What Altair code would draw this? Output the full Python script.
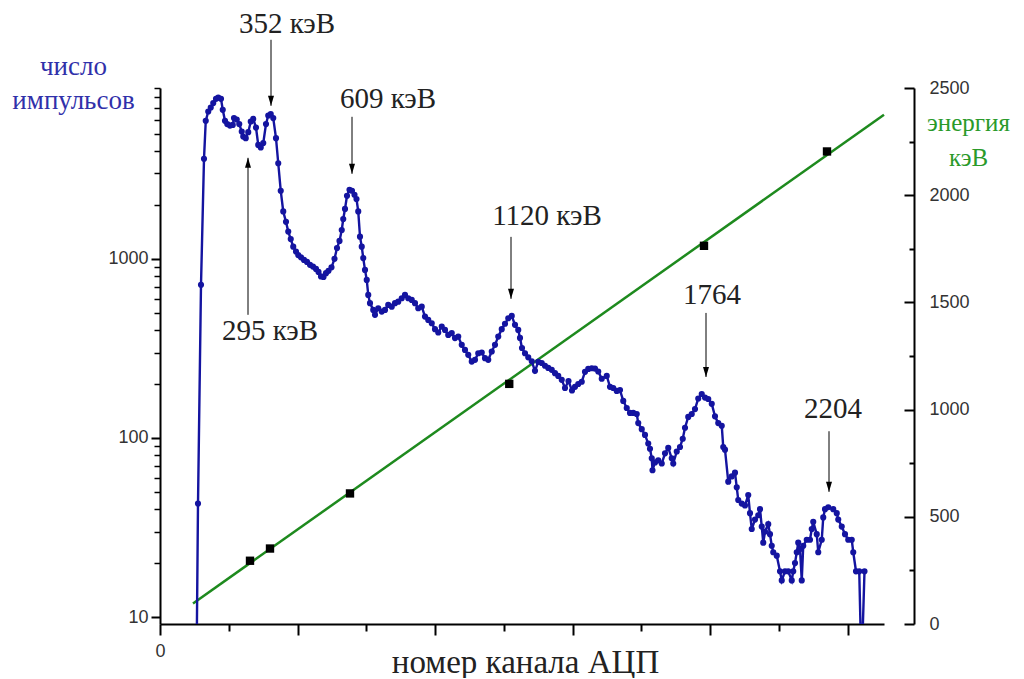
import altair as alt
import pandas as pd

# ---- spectrum (ADC channel vs counts) ----
channel = [146,152,164,176,183,193,203,213,224,233,
           244,251,260,269,280,291,296,307,317,327,
           333,343,353,363,373,384,393,403,413,424,
           433,443,453,464,473,483,493,504,513,523,
           533,544,553,564,576,588,600,612,624,634,
           644,654,664,674,686,698,708,718,727,733,
           740,748,758,768,778,786,793,800,807,813,
           820,827,833,840,853,860,873,887,900,913,
           927,940,953,967,980,993,1007,1020,1033,1047,
           1060,1073,1087,1100,1113,1127,1140,1153,1167,1180,
           1193,1207,1220,1233,1247,1260,1273,1287,1300,1313,
           1327,1340,1353,1367,1380,1393,1407,1420,1433,1440,
           1448,1460,1473,1487,1500,1513,1527,1540,1553,1567,
           1580,1593,1607,1620,1634,1648,1660,1673,1687,1700,
           1713,1727,1740,1753,1767,1787,1800,1813,1827,1840,
           1853,1867,1880,1893,1907,1913,1927,1940,1953,1960,
           1967,1970,1980,1993,2007,2020,2033,2047,2053,2067,
           2080,2091,2100,2113,2127,2140,2153,2167,2180,2193,
           2207,2220,2233,2247,2253,2260,2273,2287,2300,2307,
           2313,2327,2340,2353,2360,2367,2380,2393,2400,2407,
           2413,2420,2433,2440,2447,2453,2467,2480,2487,2500,
           2513,2527,2533,2540,2547,2553,2560,2567,2573,2587,
           2600,2607,2613,2627,2633,2647,2653,2660,2673,2693,
           2707,2713,2727,2740,2753,2767,2773,2784,2797,2806,2818]
counts = [5,43,716,3620,5900,6650,7000,7410,7830,7960,
          7830,6800,5900,5660,5550,5600,6110,6000,5660,5140,
          4820,4720,5100,5850,6050,5410,4330,4190,4430,5660,
          6320,6430,6110,4720,3420,2400,1840,1610,1420,1290,
          1170,1100,1050,1020,987,962,926,906,879,846,
          798,793,832,857,897,1000,1150,1260,1450,1670,
          1900,2250,2430,2400,2280,2160,1840,1330,1170,1010,
          868,763,629,566,519,487,530,508,519,553,
          541,566,577,603,629,603,590,566,530,541,
          476,456,437,405,388,419,401,376,385,361,
          368,331,310,291,267,273,297,300,279,273,
          304,331,368,405,434,466,480,428,401,362,
          318,297,282,268,237,266,262,253,246,240,
          230,222,211,190,208,184,193,200,206,234,
          243,245,244,235,214,222,193,190,183,185,
          161,147,138,138,136,121,112,104,93,87,
          77,66,73,75,72,82,88,77,72,84,
          89,99,114,131,136,145,166,176,168,165,
          155,132,121,117,89,86,57,61,64,53,
          45,43,42,48,38,31,35,37,40,32,
          26,30,33,29,25,23,22,18,16,18,
          18,16,18,20,23,26,24,16,25,27,
          27,31,34,29,23,27,36,40,41,40,
          38,35,32,29,27,27,23,18,18,5,18]

# ---- energy calibration ----
calib_channel = [360, 440, 760, 1397, 2176, 2668]
calib_energy = [295, 352, 609, 1120, 1764, 2204]
fit_channel = [132, 2896]
fit_energy = [96, 2375]

# ---- peak annotations ----
ann_text = ["352 кэВ", "609 кэВ", "295 кэВ", "1120 кэВ", "1764", "2204"]
ann_channel = [508, 912, 440, 1548, 2208, 2692]
ann_counts = [20550, 7830, 396, 1739, 629, 145]
arrow_channel = [444, 768, 352, 1404, 2184, 2676]
arrow_from = [16730, 6214, 487, 1327, 499, 109]
arrow_to = [7157, 2985, 3667, 598, 219, 50]
arrow_dir = ["down", "down", "up", "down", "down", "down"]

# ---- axis ticks ----
x_major = [0, 550, 1100, 1650, 2200, 2750]
x_minor = [275, 825, 1375, 1925, 2475]
y_major = [10, 100, 1000]
y_minor = [20, 30, 40, 50, 60, 70, 80, 90,
           200, 300, 400, 500, 600, 700, 800, 900,
           2000, 3000, 4000, 5000, 6000, 7000, 8000, 9000]
e_major = [0, 500, 1000, 1500, 2000, 2500]
e_minor = [250, 750, 1250, 1750, 2250]

BLUE = "#1414a0"
GREEN = "#1e8a1e"
SERIF = "Liberation Serif"
SANS = "Liberation Sans"

spec_df = pd.DataFrame({"channel": channel, "counts": counts})
calib_df = pd.DataFrame({"channel": calib_channel, "energy": calib_energy})
fit_df = pd.DataFrame({"channel": fit_channel, "energy": fit_energy})
ann_df = pd.DataFrame({"text": ann_text, "channel": ann_channel, "counts": ann_counts})
arr_df = pd.DataFrame({"channel": arrow_channel, "from": arrow_from, "to": arrow_to, "dir": arrow_dir})

x_scale = alt.Scale(domain=[0, 2896], nice=False, zero=False)
y_scale = alt.Scale(type="log", domain=[9.14, 9000], nice=False)
e_scale = alt.Scale(domain=[0, 2500], nice=False, zero=False)

x_axis_major = alt.Axis(orient="bottom", values=x_major, grid=False,
                        tickSize=11, tickWidth=2, tickColor="black",
                        domainColor="black", domainWidth=2,
                        labelExpr="datum.value == 0 ? '0' : ''", labelFlush=False,
                        labelOverlap=False, labelFont=SANS, labelFontSize=18,
                        labelColor="#333333", labelPadding=7,
                        title="номер канала АЦП", titleFont=SERIF, titleFontSize=33,
                        titleFontWeight="normal", titleColor="#222222",
                        titleAlign="center", titleBaseline="alphabetic",
                        titleX=365, titleY=48)
x_axis_minor = alt.Axis(orient="bottom", values=x_minor, grid=False,
                        tickSize=7, tickWidth=2, tickColor="black",
                        labels=False, domain=False, title=None)
y_axis_major = alt.Axis(orient="left", values=y_major, grid=False,
                        tickSize=9, tickWidth=2, tickColor="black",
                        domainColor="black", domainWidth=2, format="d",
                        labelFont=SANS, labelFontSize=18, labelColor="#333333",
                        labelPadding=3,
                        title=["число", "импульсов"], titleFont=SERIF, titleFontSize=27,
                        titleFontWeight="normal", titleColor="#3030aa",
                        titleAngle=0, titleAlign="center", titleBaseline="alphabetic",
                        titleLineHeight=34, titleX=-87, titleY=-14)
y_axis_minor = alt.Axis(orient="left", values=y_minor, grid=False,
                        tickSize=6, tickWidth=1.5, tickColor="black",
                        labels=False, domain=False, title=None)
e_axis_main = alt.Axis(orient="right", offset=30, values=e_major, grid=False,
                       ticks=False, tickSize=0, domainColor="black", domainWidth=2,
                       format="d",
                       labelFont=SANS, labelFontSize=18, labelColor="#333333",
                       labelPadding=15,
                       title=["энергия", "кэВ"], titleFont=SERIF, titleFontSize=25,
                       titleFontWeight="normal", titleColor="#2a9a2a",
                       titleAngle=0, titleAlign="center", titleBaseline="alphabetic",
                       titleLineHeight=35, titleX=54, titleY=42)
e_axis_tmaj = alt.Axis(orient="right", offset=20, values=e_major, grid=False,
                       tickSize=10, tickWidth=2, tickColor="black",
                       labels=False, domain=False, title=None)
e_axis_tmin = alt.Axis(orient="right", offset=25, values=e_minor, grid=False,
                       tickSize=5, tickWidth=2, tickColor="black",
                       labels=False, domain=False, title=None)

fit_line = alt.Chart(fit_df).mark_line(color=GREEN, strokeWidth=2.5).encode(
    x=alt.X("channel:Q", scale=x_scale, axis=x_axis_minor),
    y=alt.Y("energy:Q", scale=e_scale, axis=e_axis_main))
calib_sq = alt.Chart(calib_df).mark_square(color="black", size=70, opacity=1).encode(
    x=alt.X("channel:Q", scale=x_scale, axis=None),
    y=alt.Y("energy:Q", scale=e_scale, axis=e_axis_tmaj))
calib_ticks = alt.Chart(calib_df).mark_point(opacity=0).encode(
    x=alt.X("channel:Q", scale=x_scale, axis=None),
    y=alt.Y("energy:Q", scale=e_scale, axis=e_axis_tmin))

spec_line = alt.Chart(spec_df).mark_line(color=BLUE, strokeWidth=2.4, clip=True).encode(
    x=alt.X("channel:Q", scale=x_scale, axis=x_axis_major),
    y=alt.Y("counts:Q", scale=y_scale, axis=y_axis_major))
spec_pts = alt.Chart(spec_df).mark_circle(color=BLUE, size=38, opacity=1, clip=True).encode(
    x=alt.X("channel:Q", scale=x_scale, axis=None),
    y=alt.Y("counts:Q", scale=y_scale, axis=y_axis_minor))

ann = alt.Chart(ann_df).mark_text(font=SERIF, fontSize=29, color="#222222",
                                  align="center", baseline="middle").encode(
    x=alt.X("channel:Q", scale=x_scale, axis=None),
    y=alt.Y("counts:Q", scale=y_scale, axis=None),
    text="text:N")
arrows = alt.Chart(arr_df).mark_rule(color="black", strokeWidth=1).encode(
    x=alt.X("channel:Q", scale=x_scale, axis=None),
    y=alt.Y("from:Q", scale=y_scale, axis=None),
    y2="to:Q")
heads = alt.Chart(arr_df).mark_point(filled=True, color="black", size=25,
                                     opacity=1, strokeWidth=0).encode(
    x=alt.X("channel:Q", scale=x_scale, axis=None),
    y=alt.Y("to:Q", scale=y_scale, axis=None),
    shape=alt.Shape("dir:N", scale=alt.Scale(domain=["down", "up"],
                    range=["M0,0L-1.2,-4L1.2,-4Z", "M0,0L-1.2,4L1.2,4Z"]), legend=None))

chart = alt.layer(fit_line, calib_sq, calib_ticks, spec_line, spec_pts, ann, arrows, heads
).resolve_scale(y="independent").resolve_axis(x="independent", y="independent").properties(
    width=724, height=536,
    autosize=alt.AutoSizeParams(type="none"),
    padding={"left": 152, "top": 80, "right": 130, "bottom": 54},
    background="white"
).configure_view(stroke=None)

chart.save("out.html", embed_options={"renderer": "svg", "actions": False})
